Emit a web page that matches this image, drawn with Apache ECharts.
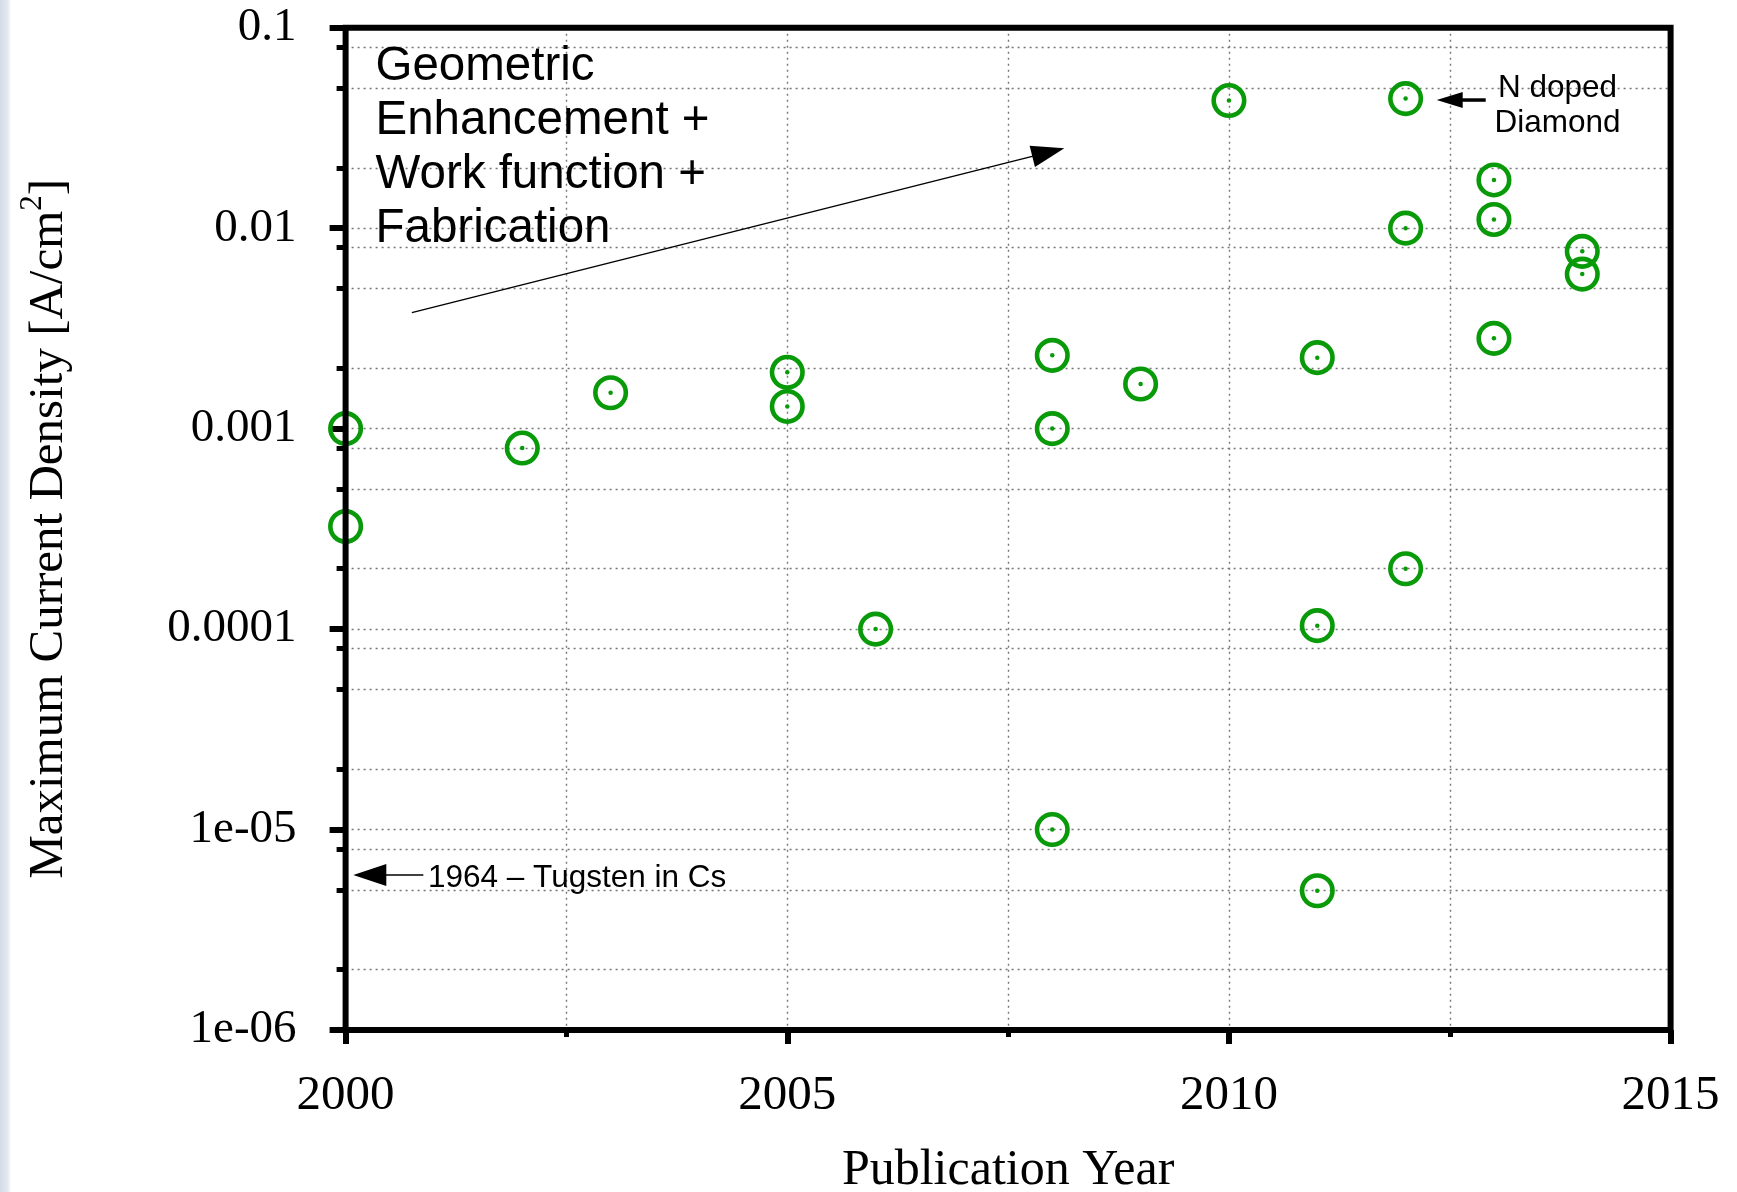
<!DOCTYPE html>
<html>
<head>
<meta charset="utf-8">
<script src="https://cdn.jsdelivr.net/npm/echarts@6/dist/echarts.min.js"></script>
<style>
  html, body { margin: 0; padding: 0; background: #fff; }
  #chart { width: 1737px; height: 1192px; }
</style>
</head>
<body>
<div id="chart"></div>
<script>
// Publication year and maximum emission current density of each reported cathode
const pubYear = [2000, 2000, 2002, 2003, 2005, 2005, 2006, 2008, 2008, 2008, 2009, 2010,
                 2011, 2011, 2011, 2012, 2012, 2012, 2013, 2013, 2013, 2014, 2014];
const maxCurrentDensity = [0.001, 3.25e-4, 8.0e-4, 1.51e-3, 1.91e-3, 1.29e-3, 1.0e-4, 2.32e-3, 1.0e-3, 1.0e-5, 1.67e-3, 0.0433,
                           2.26e-3, 1.04e-4, 4.95e-6, 0.0443, 0.01, 2.0e-4, 0.0174, 0.01105, 2.82e-3, 7.66e-3, 5.9e-3];

// Y axis: decade ticks with labels, plus minor ticks at 2, 5 and 8 of each decade
const yMajorTicks = [1e-6, 1e-5, 1e-4, 1e-3, 1e-2, 1e-1];
const yTickLabels = ['1e-06', '1e-05', '0.0001', '0.001', '0.01', '0.1'];
const yMinorTicks = [2e-6, 5e-6, 8e-6, 2e-5, 5e-5, 8e-5, 2e-4, 5e-4, 8e-4,
                     2e-3, 5e-3, 8e-3, 2e-2, 5e-2, 8e-2];
const xRange = [2000, 2015];

// Annotation arrows, anchored in data space: [fromYear, fromValue, toYear, toValue]
const arrowTrend   = [2000.75, 0.00379, 2008.136, 0.02503];
const arrowDiamond = [2012.907, 0.04357, 2012.352, 0.04357];
const arrowTungsten = [2000.88, 5.933e-6, 2000.087, 5.933e-6];

const GREEN = '#089a08';
const SERIF = '"Liberation Serif", "Times New Roman", serif';
const SANS = '"Liberation Sans", Arial, sans-serif';
const gridLine = { show: true, lineStyle: { color: '#767676', width: 1.4, type: [2, 4] } };

const points = pubYear.map((y, i) => [y, maxCurrentDensity[i]]);

const chart = echarts.init(document.getElementById('chart'), null, { renderer: 'canvas' });

chart.setOption({
  animation: false,
  backgroundColor: '#ffffff',
  grid: {
    left: 345.6, right: 66.4, top: 27.7, bottom: 162,
    containLabel: false, outerBoundsMode: 'none',
    show: true, z: 5, backgroundColor: 'transparent',
    borderColor: '#000', borderWidth: 6
  },
  xAxis: {
    type: 'value', min: xRange[0], max: xRange[1], interval: 5,
    axisLine: { show: false },
    axisTick: { show: true, inside: false, length: 14, lineStyle: { color: '#000', width: 6 } },
    minorTick: { show: true, splitNumber: 2, length: 7, lineStyle: { color: '#000', width: 5 } },
    splitLine: gridLine,
    minorSplitLine: gridLine,
    axisLabel: {
      margin: 42, color: '#000', fontFamily: SERIF, fontSize: 49,
      formatter: v => String(v)
    },
    name: 'Publication Year', nameLocation: 'middle', nameGap: 116,
    nameTextStyle: { color: '#000', fontFamily: SERIF, fontSize: 50 }
  },
  yAxis: [
    {
      type: 'log', logBase: 10, min: yMajorTicks[0], max: yMajorTicks[yMajorTicks.length - 1],
      position: 'left',
      axisLine: { show: false },
      axisTick: { show: true, inside: false, length: 16, lineStyle: { color: '#000', width: 6 },
                  customValues: yMajorTicks },
      splitLine: gridLine,
      axisLabel: {
        customValues: yMajorTicks,
        margin: 49, color: '#000', fontFamily: SERIF, fontSize: 47, padding: [6, 0, 0, 0],
        formatter: v => yTickLabels[Math.round(Math.log10(v)) + 6]
      },
      name: 'Maximum Current Density [A/cm{sup|2}]',
      nameLocation: 'middle', nameGap: 264,
      nameTextStyle: {
        color: '#000', fontFamily: SERIF, fontSize: 49, lineHeight: 64,
        rich: { sup: { color: '#000', fontFamily: SERIF, fontSize: 31, lineHeight: 24, verticalAlign: 'top' } }
      }
    },
    {
      type: 'log', logBase: 10, min: yMajorTicks[0], max: yMajorTicks[yMajorTicks.length - 1],
      position: 'left',
      axisLine: { show: false },
      axisLabel: { show: false },
      axisTick: { show: true, inside: false, length: 9, lineStyle: { color: '#000', width: 5 },
                  customValues: yMinorTicks },
      splitLine: gridLine
    }
  ],
  series: [
    {
      name: 'ring', type: 'scatter', xAxisIndex: 0, yAxisIndex: 0,
      data: points, symbol: 'circle', symbolSize: 30.5, silent: true,
      itemStyle: { color: 'rgba(0,0,0,0)', borderColor: GREEN, borderWidth: 4.6, opacity: 1 },
      emphasis: { disabled: true }
    },
    {
      name: 'centre', type: 'scatter', xAxisIndex: 0, yAxisIndex: 0,
      data: points, symbol: 'circle', symbolSize: 4.5, silent: true,
      itemStyle: { color: GREEN, opacity: 1 },
      emphasis: { disabled: true }
    }
  ]
});

// Annotations: arrows are placed through the axes, texts are laid out around them
function px(year, value) {
  return chart.convertToPixel({ xAxisIndex: 0, yAxisIndex: 0 }, [year, value]);
}
function arrow(def, headLen, headHalf, width) {
  const a = px(def[0], def[1]);
  const b = px(def[2], def[3]);
  const dx = b[0] - a[0], dy = b[1] - a[1];
  const len = Math.sqrt(dx * dx + dy * dy);
  const ux = dx / len, uy = dy / len;
  const bx = b[0] - ux * headLen, by = b[1] - uy * headLen;
  return [
    { type: 'line', silent: true, z: 20,
      shape: { x1: a[0], y1: a[1], x2: bx + ux * 2, y2: by + uy * 2 },
      style: { stroke: '#000', lineWidth: width } },
    { type: 'polygon', silent: true, z: 20,
      shape: { points: [b, [bx - uy * headHalf, by + ux * headHalf], [bx + uy * headHalf, by - ux * headHalf]] },
      style: { fill: '#000' } }
  ];
}

chart.setOption({
  graphic: [
    { type: 'rect', silent: true, z: 0,
      shape: { x: 0, y: 0, width: 11, height: 1192 },
      style: { fill: new echarts.graphic.LinearGradient(0, 0, 1, 0, [
        { offset: 0, color: '#d2dbe7' }, { offset: 0.7, color: '#e4e9f1' }, { offset: 1, color: '#ffffff' }]) } },
    { type: 'text', silent: true, z: 20,
      style: { x: 375.5, y: 39.5, text: 'Geometric\nEnhancement +\nWork function +\nFabrication',
               font: '47.5px ' + SANS, lineHeight: 54, fill: '#000',
               align: 'left', verticalAlign: 'top', textAlign: 'left', textVerticalAlign: 'top' } },
    { type: 'text', silent: true, z: 20,
      style: { x: 1557.5, y: 70.2, text: 'N doped\nDiamond',
               font: '31.5px ' + SANS, lineHeight: 35.4, fill: '#000',
               align: 'center', verticalAlign: 'top', textAlign: 'center', textVerticalAlign: 'top' } },
    { type: 'text', silent: true, z: 20,
      style: { x: 428, y: 878.6, text: '1964 \u2013 Tugsten in Cs',
               font: '31.5px ' + SANS, fill: '#000',
               align: 'left', verticalAlign: 'middle', textAlign: 'left', textVerticalAlign: 'middle' } }
  ].concat(arrow(arrowTrend, 33, 11, 1.5))
   .concat(arrow(arrowDiamond, 26, 8, 3.5))
   .concat(arrow(arrowTungsten, 33, 11, 1.5))
});
</script>
</body>
</html>
